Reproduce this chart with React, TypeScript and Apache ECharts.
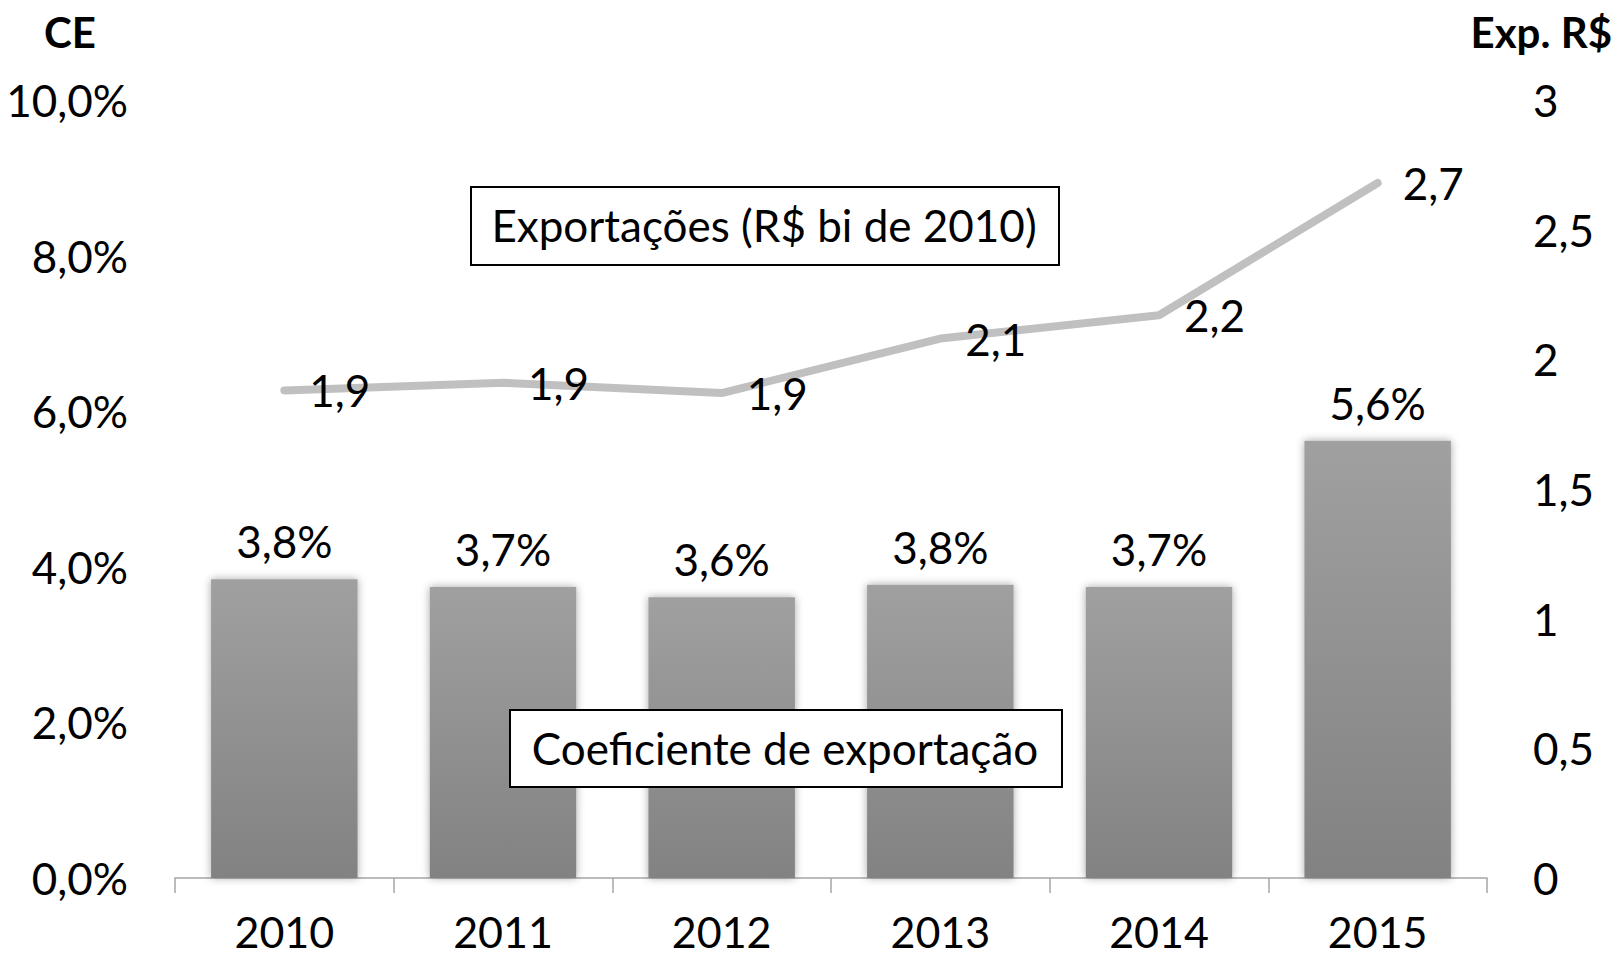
import React, { useEffect, useRef } from "react";
import * as echarts from "echarts";

const years = ["2010", "2011", "2012", "2013", "2014", "2015"];
const coefExport = [3.84, 3.74, 3.61, 3.77, 3.74, 5.62];
const exportsBRL = [1.88, 1.91, 1.87, 2.08, 2.17, 2.68];
const leftTitle = "CE";
const rightTitle = "Exp. R$";
const lineBoxText = "Exportações (R$ bi de 2010)";
const barBoxText = "Coeficiente de exportação";

const FONT = "Lato, 'Noto Sans', sans-serif";
const FS = 44;
const comma = (v: number, d: number) => v.toFixed(d).replace(".", ",");

export default function App() {
  const ref = useRef<HTMLDivElement>(null);
  useEffect(() => {
    if (!ref.current) return;
    const chart = echarts.init(ref.current, null, { renderer: "svg" });
    const option: any = {
      animation: false,
      backgroundColor: "#ffffff",
      textStyle: { fontFamily: FONT },
      grid: { left: 175, right: 131, top: 100, bottom: 78, containLabel: false },
      xAxis: {
        type: "category",
        data: years,
        boundaryGap: true,
        axisLine: { show: true, lineStyle: { color: "#a6a6a6", width: 1.5 } },
        axisTick: { show: true, length: 15, lineStyle: { color: "#a6a6a6", width: 1.5 } },
        axisLabel: {
          color: "#000",
          fontSize: 43,
          lineHeight: 36,
          fontFamily: FONT,
          margin: 35,
        },
      },
      yAxis: [
        {
          type: "value",
          min: 0,
          max: 10,
          interval: 2,
          axisLine: { show: false },
          axisTick: { show: false },
          splitLine: { show: false },
          axisLabel: {
            color: "#000",
            fontSize: FS,
            fontFamily: FONT,
            margin: 47,
            formatter: (v: number) => comma(v, 1) + "%",
          },
        },
        {
          type: "value",
          min: 0,
          max: 3,
          interval: 0.5,
          position: "right",
          axisLine: { show: false },
          axisTick: { show: false },
          splitLine: { show: false },
          axisLabel: {
            color: "#000",
            fontSize: FS,
            fontFamily: FONT,
            margin: 46,
            formatter: (v: number) => (Number.isInteger(v) ? String(v) : comma(v, 1)),
          },
        },
      ],
      series: [
        {
          type: "bar",
          yAxisIndex: 0,
          data: coefExport,
          barCategoryGap: "33%",
          itemStyle: {
            color: new echarts.graphic.LinearGradient(0, 0, 0, 1, [
              { offset: 0, color: "#a0a0a0" },
              { offset: 1, color: "#828282" },
            ]),
            shadowBlur: 8,
            shadowColor: "rgba(0,0,0,0.35)",
          },
          label: {
            show: true,
            position: "top",
            distance: 16,
            color: "#000",
            fontSize: FS,
            fontFamily: FONT,
            formatter: (p: any) => comma(p.value, 1) + "%",
          },
          z: 2,
        },
        {
          type: "line",
          yAxisIndex: 1,
          data: exportsBRL,
          showSymbol: true,
          symbol: "circle",
          symbolSize: 2,
          itemStyle: { color: "rgba(192,192,192,0)", borderWidth: 0 },
          lineStyle: { color: "#c0c0c0", width: 8, cap: "round", join: "round" },
          label: {
            show: true,
            position: "right",
            distance: 24,
            color: "#000",
            fontSize: FS,
            fontFamily: FONT,
            formatter: (p: any) => comma(p.value, 1),
          },
          labelLayout: { hideOverlap: false },
          z: 3,
        },
      ],
      graphic: [
        {
          type: "text",
          left: 44,
          top: 11,
          z: 100,
          style: { text: leftTitle, font: `bold 42px ${FONT}`, fill: "#000" },
        },
        {
          type: "text",
          right: 6,
          top: 11,
          z: 100,
          style: { text: rightTitle, font: `bold 42px ${FONT}`, fill: "#000" },
        },
        {
          type: "rect",
          left: 470,
          top: 186,
          z: 100,
          shape: { x: 0, y: 0, width: 588, height: 78 },
          style: { fill: "#fff", stroke: "#000", lineWidth: 2 },
        },
        {
          type: "text",
          x: 764,
          y: 225,
          z: 101,
          style: {
            text: lineBoxText,
            font: `${FS}px ${FONT}`,
            fill: "#000",
            align: "center",
            verticalAlign: "middle",
          },
        },
        {
          type: "rect",
          left: 509,
          top: 709,
          z: 100,
          shape: { x: 0, y: 0, width: 552, height: 77 },
          style: { fill: "#fff", stroke: "#000", lineWidth: 2 },
        },
        {
          type: "text",
          x: 785,
          y: 748,
          z: 101,
          style: {
            text: barBoxText,
            font: `${FS}px ${FONT}`,
            fill: "#000",
            align: "center",
            verticalAlign: "middle",
          },
        },
      ],
    };
    chart.setOption(option);
    return () => chart.dispose();
  }, []);
  return (
    <div
      ref={ref}
      style={{ position: "fixed", left: 0, top: 0, width: 1618, height: 956 }}
    />
  );
}
